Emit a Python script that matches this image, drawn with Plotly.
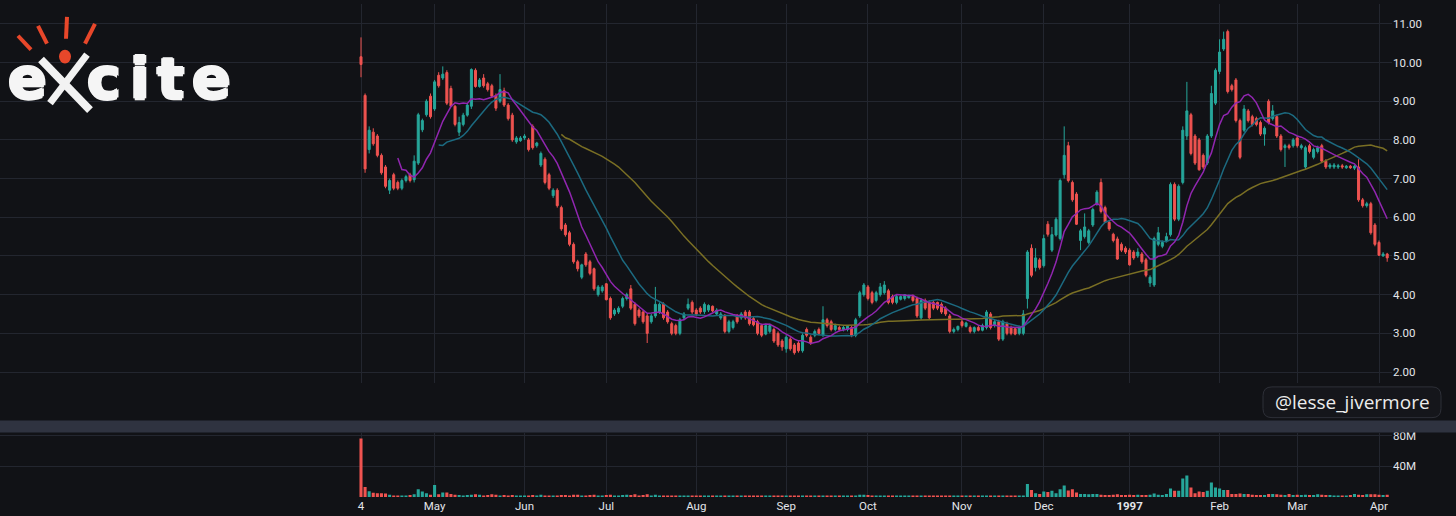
import pandas as pd
import plotly.graph_objects as go

# trading days Apr 4 1996 -> Apr 3 1997, NYSE holidays taken out
holidays = ['1996-04-05', '1996-05-27', '1996-07-04', '1996-09-02', '1996-11-28',
            '1996-12-25', '1997-01-01', '1997-02-17', '1997-03-28']
dates = [d for d in pd.bdate_range('1996-04-04', '1997-04-03')
         if d.strftime('%Y-%m-%d') not in holidays]

opens = [
    10.15, 9.15, 7.75, 8.2, 8.1, 7.6, 7.3, 6.7, 7.1, 6.9, 6.75, 6.95, 7.1, 6.97, 7.4, 8.26, 8.65, 9.13,
    8.8, 9.67, 9.6, 9.74, 9.33, 8.87, 8.2, 8.4, 8.64, 8.87, 9.8, 9.38, 9.6, 9.45, 9.4, 9.15, 9.0, 9.27, 8.9, 8.64, 7.95, 7.98,
    8.05, 8.0, 8.35, 7.85, 7.35, 7.5, 7.1, 6.56, 6.7, 6.25, 5.8, 5.6, 5.3, 4.85, 4.45, 5.05, 4.85, 4.67, 4.0, 4.1,
    4.28, 3.9, 3.5, 3.55, 3.7, 3.9, 4.15, 3.75, 3.6, 3.55, 3.45, 3.3, 3.45, 3.55, 3.75, 3.55, 3.25, 3.2, 3.0, 3.4, 3.65, 3.8,
    3.6, 3.65, 3.56, 3.6, 3.7, 3.5, 3.4, 3.44, 3.05, 3.15, 3.45, 3.4, 3.55, 3.55, 3.38, 3.3, 3.2, 2.98, 3.05, 3.1, 3.0, 2.8,
    2.6, 2.85, 2.7, 2.75, 2.55, 3.1, 2.9, 2.95, 3.1, 2.95, 3.35, 3.3, 3.1, 3.15, 3.1, 3.1, 3.15, 2.95, 3.45, 4.0,
    4.2, 4.05, 3.85, 4.0, 4.05, 4.1, 3.95, 3.8, 3.88, 3.9, 3.92, 3.95, 3.9, 3.4, 3.85, 3.8, 3.8, 3.8, 3.75, 3.65, 3.45, 3.05, 3.1,
    3.3, 3.18, 3.15, 3.05, 3.15, 3.08, 3.15, 3.5, 3.2, 3.3, 2.85, 3.25, 3.15, 3.12, 3.0, 3.0, 3.9, 5.2, 4.7, 4.9,
    4.75, 5.82, 5.15, 5.54, 5.45, 7.1, 7.85, 6.9, 6.6, 5.4, 5.5, 5.35, 5.8, 6.35, 6.9, 6.25, 5.87, 5.56, 5.44, 5.3, 5.2,
    5.15, 5.1, 5.0, 5.05, 4.9, 4.3, 4.25, 5.3, 5.25, 5.4, 5.55, 6.85, 5.95, 6.9, 8.1, 8.65, 8.1, 8.0, 7.6, 7.4, 8.1, 8.95,
    9.77, 10.35, 10.8, 9.4, 9.55, 8.5, 8.25, 8.75, 8.6, 8.55, 8.45, 8.15, 9.0, 8.55, 8.6, 8.1, 7.8, 7.85, 7.85,
    8.05, 7.8, 7.3, 7.85, 7.55, 7.7, 7.85, 7.45, 7.3, 7.3, 7.3, 7.33, 7.28, 7.32, 7.27, 7.3, 6.45, 6.3, 6.35, 5.8,
    5.35, 5.0, 5.05,
]
highs = [
    10.65, 9.2, 8.35, 8.3, 8.15, 7.65, 7.35, 7.0, 7.15, 6.95, 7.0, 7.1, 7.15, 7.6, 8.7, 8.55, 9.05, 9.2,
    9.55, 9.75, 9.9, 9.8, 9.4, 8.9, 8.6, 8.7, 8.95, 9.85, 9.85, 9.6, 9.7, 9.5, 9.45, 9.2, 9.7, 9.35, 8.95, 8.7, 8.1, 8.1,
    8.15, 8.05, 8.4, 7.95, 7.7, 7.55, 7.15, 6.75, 6.75, 6.3, 5.85, 5.65, 5.35, 4.9, 4.8, 5.1, 4.9, 4.7, 4.25, 4.25,
    4.3, 3.95, 3.65, 3.7, 3.95, 4.05, 4.25, 3.8, 3.65, 3.6, 3.5, 3.5, 4.2, 3.8, 3.8, 3.6, 3.3, 3.25, 3.4, 3.55, 3.9, 3.85,
    3.65, 3.7, 3.8, 3.75, 3.72, 3.65, 3.55, 3.5, 3.35, 3.35, 3.5, 3.55, 3.6, 3.6, 3.42, 3.35, 3.25, 3.25, 3.25, 3.15, 3.05, 2.85,
    2.95, 2.9, 2.75, 2.8, 3.0, 3.15, 2.95, 3.1, 3.15, 3.7, 3.4, 3.35, 3.25, 3.2, 3.2, 3.2, 3.2, 3.4, 4.1, 4.3,
    4.25, 4.1, 4.1, 4.3, 4.35, 4.15, 4.0, 4.0, 3.98, 4.0, 4.0, 4.0, 3.95, 3.9, 3.9, 3.85, 3.85, 3.82, 3.8, 3.7, 3.5, 3.15, 3.2,
    3.35, 3.3, 3.2, 3.18, 3.2, 3.25, 3.6, 3.55, 3.35, 3.35, 3.35, 3.3, 3.2, 3.15, 3.2, 3.6, 5.15, 5.3, 5.2, 4.95,
    5.55, 5.9, 5.75, 6.0, 7.0, 8.35, 7.95, 6.95, 6.65, 5.7, 6.1, 5.7, 6.25, 6.7, 7.0, 6.3, 5.9, 5.6, 5.5, 5.35, 5.25,
    5.2, 5.15, 5.2, 5.1, 4.95, 4.5, 5.5, 5.75, 5.4, 5.6, 6.9, 6.9, 6.85, 8.35, 9.5, 8.7, 8.15, 8.05, 7.65, 8.15, 9.4, 9.85,
    10.6, 10.8, 10.85, 9.45, 9.6, 8.55, 8.9, 8.8, 8.65, 8.6, 8.5, 8.35, 9.05, 8.9, 8.65, 8.15, 7.9, 7.9, 8.05,
    8.1, 7.9, 7.85, 7.9, 7.8, 7.85, 7.9, 7.5, 7.4, 7.4, 7.38, 7.38, 7.35, 7.35, 7.35, 7.5, 6.5, 6.4, 6.4, 5.85,
    5.4, 5.1, 5.08,
]
lows = [
    9.62, 7.15, 7.65, 7.85, 7.55, 7.1, 6.75, 6.6, 6.7, 6.7, 6.7, 6.9, 6.9, 6.9, 7.35, 8.2, 8.6, 8.55,
    8.75, 9.35, 9.55, 8.9, 8.85, 8.35, 8.1, 8.35, 8.6, 8.8, 9.35, 9.35, 9.35, 9.25, 9.1, 8.75, 8.95, 8.85, 8.5, 7.95, 7.9, 7.95,
    8.0, 7.7, 7.75, 7.8, 7.3, 6.85, 6.7, 6.5, 6.25, 5.65, 5.5, 5.25, 4.8, 4.6, 4.4, 4.72, 4.5, 4.1, 3.95, 4.05,
    3.85, 3.35, 3.45, 3.5, 3.65, 3.85, 3.6, 3.2, 3.4, 3.25, 2.75, 3.25, 3.4, 3.5, 3.35, 3.25, 2.95, 2.95, 2.95, 3.35, 3.6, 3.5,
    3.45, 3.5, 3.5, 3.55, 3.55, 3.45, 3.35, 3.0, 3.0, 3.1, 3.25, 3.35, 3.35, 3.2, 3.18, 2.95, 2.9, 2.95, 3.0, 2.75, 2.65, 2.55,
    2.5, 2.55, 2.45, 2.5, 2.5, 2.9, 2.7, 2.9, 2.95, 2.9, 3.15, 3.05, 3.05, 3.05, 3.05, 3.05, 2.9, 2.9, 3.4, 3.95,
    3.85, 3.75, 3.8, 3.95, 4.0, 3.75, 3.75, 3.75, 3.85, 3.85, 3.9, 3.8, 3.4, 3.35, 3.6, 3.35, 3.6, 3.6, 3.5, 3.45, 3.0, 3.0, 3.05,
    3.15, 3.15, 3.0, 3.0, 3.05, 3.05, 3.1, 3.1, 3.15, 2.8, 2.8, 2.95, 2.95, 2.95, 2.95, 2.95, 3.64, 4.45, 4.6, 4.65,
    4.7, 5.5, 5.1, 5.5, 5.4, 7.0, 6.9, 6.4, 5.8, 5.15, 5.45, 5.3, 5.75, 6.3, 6.1, 5.85, 5.65, 5.35, 4.9, 5.1, 5.05,
    4.75, 4.9, 4.95, 4.8, 4.45, 4.2, 4.2, 5.25, 5.2, 5.35, 5.5, 5.9, 5.9, 6.85, 8.0, 7.6, 7.35, 7.2, 7.25, 7.35, 8.05, 8.9,
    9.7, 10.3, 9.2, 9.25, 8.45, 7.5, 8.2, 8.45, 8.35, 8.35, 8.1, 7.85, 8.4, 8.5, 8.05, 7.7, 7.3, 7.75, 7.8,
    7.8, 7.75, 7.25, 7.65, 7.5, 7.65, 7.4, 7.25, 7.25, 7.25, 7.25, 7.25, 7.25, 7.25, 7.22, 6.4, 6.25, 6.25, 5.55, 5.25,
    5.0, 4.98, 4.85,
]
closes = [
    9.95, 7.25, 8.25, 7.9, 7.6, 7.15, 6.8, 6.95, 6.75, 6.75, 6.95, 7.05, 6.95, 7.45, 8.65, 8.5, 9.0, 8.6,
    9.5, 9.4, 9.7, 8.95, 8.87, 8.4, 8.45, 8.64, 8.9, 9.82, 9.38, 9.55, 9.4, 9.3, 9.13, 8.82, 9.3, 8.9, 8.55, 8.0, 8.05, 8.05,
    8.1, 7.75, 7.8, 7.92, 7.65, 6.9, 6.75, 6.7, 6.3, 5.7, 5.55, 5.3, 4.85, 4.67, 4.77, 4.77, 4.55, 4.15, 4.2, 4.2,
    3.87, 3.4, 3.6, 3.65, 3.9, 4.0, 3.65, 3.25, 3.45, 3.3, 3.0, 3.45, 3.75, 3.75, 3.4, 3.3, 3.0, 3.0, 3.35, 3.5, 3.75, 3.55,
    3.5, 3.55, 3.75, 3.72, 3.58, 3.6, 3.5, 3.05, 3.3, 3.3, 3.3, 3.5, 3.4, 3.25, 3.22, 3.0, 2.95, 3.2, 3.2, 2.8, 2.7, 2.65,
    2.9, 2.6, 2.5, 2.55, 2.95, 2.95, 2.75, 3.05, 3.0, 3.35, 3.2, 3.1, 3.2, 3.1, 3.15, 3.18, 2.95, 3.35, 4.05, 4.25,
    3.9, 3.8, 4.05, 4.2, 4.25, 3.8, 3.8, 3.95, 3.95, 4.0, 3.98, 3.85, 3.45, 3.85, 3.65, 3.4, 3.65, 3.65, 3.55, 3.5, 3.05, 3.1, 3.18,
    3.2, 3.27, 3.05, 3.15, 3.08, 3.2, 3.55, 3.15, 3.3, 2.85, 3.3, 3.0, 3.0, 2.98, 3.15, 3.5, 5.1, 4.5, 4.95, 4.7,
    5.45, 5.56, 5.55, 5.95, 6.95, 7.6, 6.95, 6.45, 5.82, 5.65, 5.75, 5.65, 6.2, 6.65, 6.15, 5.87, 5.7, 5.4, 4.92, 5.15, 5.1,
    4.77, 4.95, 5.1, 4.85, 4.5, 4.45, 5.45, 5.6, 5.35, 5.5, 6.85, 5.95, 6.8, 8.25, 8.75, 7.65, 7.4, 7.23, 7.3, 8.1, 9.2, 9.8,
    10.27, 10.6, 9.25, 9.3, 8.5, 7.55, 8.8, 8.5, 8.4, 8.4, 8.15, 8.3, 8.45, 8.75, 8.1, 7.75, 7.85, 7.8, 8.0,
    7.85, 7.85, 7.8, 7.7, 7.75, 7.8, 7.45, 7.3, 7.35, 7.35, 7.33, 7.3, 7.32, 7.28, 7.32, 6.45, 6.3, 6.35, 5.6, 5.3,
    5.02, 5.05, 4.95,
]
# volume in millions of shares
volumes = [
    76, 13, 7.5, 5.5, 5, 5, 4.5, 3, 2, 1.8, 2, 2, 2.5, 3.5, 10, 7, 5, 3,
    15.5, 3.5, 6, 6, 4, 3, 2.5, 2, 2.5, 3, 3.5, 3, 2, 2.5, 3.5, 3, 2, 2.5, 2, 2.5, 2, 2,
    2, 2, 2.5, 2, 3, 2, 2, 1.5, 2, 2.5, 2.5, 2, 3, 3, 2, 2, 2.5, 3, 2, 2,
    2.5, 3, 2, 2, 2.5, 3, 2.5, 3.5, 2, 2.5, 3.5, 2, 3, 2, 2, 2, 2, 1.5, 2, 1.5, 2, 1.5,
    1, 1, 1, 0.8, 0.8, 0.8, 0.8, 1, 0.8, 0.8, 0.8, 0.8, 0.8, 1, 0.8, 1, 1, 0.8, 0.8, 1, 1, 1,
    1, 1, 1, 1, 1.2, 1, 1, 1, 1, 2, 1, 1, 1, 1, 1, 1, 1.2, 1.5, 3, 3,
    2.5, 2, 2, 2, 2, 1.5, 1.5, 1.5, 1.5, 1.5, 1.2, 1.2, 2, 2, 1.5, 2, 1.5, 1.5, 1.5, 1.2, 2, 1, 1,
    1.2, 1, 1, 1, 1, 1.5, 2, 2, 1.2, 2, 1.5, 1.2, 1, 1, 1, 2, 17, 9, 5, 4,
    7, 6.5, 8, 5, 10, 15, 8.5, 10, 6, 4, 4, 3.5, 4, 4, 3, 2.5, 2.5, 3, 3.5, 2.5, 2.5,
    3, 2.5, 3, 2.5, 2.5, 3, 4.5, 3, 2.5, 4, 11, 8, 8, 24, 28, 12.5, 5, 7, 6.5, 8, 19, 12.5,
    11, 9, 9, 4, 4, 4.5, 4, 4, 3, 2.5, 2.5, 2.5, 4, 4, 3.5, 3, 2.5, 4, 2.5,
    3, 2.5, 3, 2.5, 2.5, 3.5, 3, 2.5, 2.5, 2, 2, 2, 2, 2.5, 4, 3, 2.5, 3.5, 3.5, 3.5,
    3, 2.5, 3,
]

price_ticks = [2, 3, 4, 5, 6, 7, 8, 9, 10, 11]

bg = '#111216'
grid = '#23262f'
up = '#26a69a'
down = '#ef5350'

n = len(closes)
xs = list(range(n))
labels = [d.strftime('%Y-%m-%d') for d in dates[:n]]

# month ticks: first bar of every month
tick_pos, tick_text = [], []
for i, d in enumerate(dates[:n]):
    if i == 0:
        tick_pos.append(i)
        tick_text.append(str(d.day))
    elif d.month != dates[i - 1].month:
        tick_pos.append(i)
        tick_text.append('<b>%d</b>' % d.year if d.month == 1 else d.strftime('%b'))

s = pd.Series(closes)
ma10 = s.rolling(10).mean()
ma20 = s.rolling(20).mean()
ma50 = s.rolling(50).mean()

vol_colors = [up if c >= o else down for o, c in zip(opens, closes)]

# plot area is 1392 x 497 px, helpers to place decorations in px
W, H = 1392.0, 497.0
def px(v):
    return v / W
def py(v):
    return 1 - v / H

fig = go.Figure()
fig.add_trace(go.Scatter(x=xs, y=ma50, mode='lines', line=dict(color='#7a6f24', width=1.5),
                         hoverinfo='skip'))
fig.add_trace(go.Scatter(x=xs, y=ma20, mode='lines', line=dict(color='#1c6a80', width=1.5),
                         hoverinfo='skip'))
fig.add_trace(go.Scatter(x=xs, y=ma10, mode='lines', line=dict(color='#9126b0', width=1.5),
                         hoverinfo='skip'))
fig.add_trace(go.Candlestick(
    x=xs, open=opens, high=highs, low=lows, close=closes, text=labels,
    increasing=dict(line=dict(color=up, width=1), fillcolor=up),
    decreasing=dict(line=dict(color=down, width=1), fillcolor=down),
    whiskerwidth=0))
fig.add_trace(go.Bar(x=xs, y=[v * 1e6 for v in volumes], marker=dict(color=vol_colors, line_width=0),
                     xaxis='x2', yaxis='y2', hoverinfo='skip'))

xr = [-361 / 4.0884, (W - 361) / 4.0884]

fig.update_layout(
    width=1456, height=516,
    margin=dict(l=0, r=64, t=0, b=19),
    paper_bgcolor=bg, plot_bgcolor=bg,
    showlegend=False, bargap=0.25,
    font=dict(family='Roboto', size=11.5, color='#e3e5ea'),
    xaxis=dict(domain=[0, 1], range=xr, anchor='y', tickvals=tick_pos, showticklabels=False,
               showgrid=True, gridcolor=grid, zeroline=False, rangeslider=dict(visible=False)),
    yaxis=dict(domain=[py(382), 1], range=[11 - 362 / 39.0, 11 + 20 / 39.0], side='right',
               tickvals=price_ticks, ticktext=['%.2f' % t for t in price_ticks],
               showgrid=True, gridcolor=grid, zeroline=False, anchor='x'),
    xaxis2=dict(domain=[0, 1], range=xr, anchor='y2', tickvals=tick_pos, ticktext=tick_text,
                showgrid=True, gridcolor=grid, zeroline=False),
    yaxis2=dict(domain=[0, py(432)], range=[0, 80e6 * 65 / 62.0], side='right',
                tickvals=[40e6, 80e6], ticktext=['40M', '80M'],
                showgrid=True, gridcolor=grid, zeroline=False, anchor='x2'),
)

# pane separator
fig.add_shape(type='rect', xref='paper', yref='paper', x0=0, x1=px(1456), y0=py(432), y1=py(420),
              fillcolor='#2f3340', line_width=0)

# watermark box with rounded corners
x0, x1, y0, y1, r = 1263, 1441, 386, 417, 9
pts = 'M %f,%f L %f,%f Q %f,%f %f,%f L %f,%f Q %f,%f %f,%f L %f,%f Q %f,%f %f,%f L %f,%f Q %f,%f %f,%f Z' % (
    px(x0 + r), py(y0), px(x1 - r), py(y0), px(x1), py(y0), px(x1), py(y0 + r),
    px(x1), py(y1 - r), px(x1), py(y1), px(x1 - r), py(y1),
    px(x0 + r), py(y1), px(x0), py(y1), px(x0), py(y1 - r),
    px(x0), py(y0 + r), px(x0), py(y0), px(x0 + r), py(y0))
fig.add_shape(type='path', xref='paper', yref='paper', path=pts,
              fillcolor='#15161b', line=dict(color='#2e3038', width=1))
fig.add_annotation(xref='paper', yref='paper', x=px(1352), y=py(401), text='@lesse_jivermore',
                   showarrow=False, xanchor='center', yanchor='middle',
                   font=dict(family='Open Sans', size=19, color='#ececec'))

# excite logo
for x_a, y_a, x_b, y_b in [(18, 32, 31, 46), (38, 22, 47, 40), (67, 13, 66, 35), (95, 20, 85, 40)]:
    fig.add_shape(type='line', xref='paper', yref='paper', x0=px(x_a), y0=py(y_a), x1=px(x_b), y1=py(y_b),
                  line=dict(color='#e8472a', width=4))
fig.add_shape(type='line', xref='paper', yref='paper', x0=px(41), y0=py(56), x1=px(90), y1=py(107),
              line=dict(color='#f2f2f2', width=8))
fig.add_shape(type='line', xref='paper', yref='paper', x0=px(87), y0=py(51), x1=px(50), y1=py(100),
              line=dict(color='#f2f2f2', width=7))
fig.add_shape(type='circle', xref='paper', yref='paper', x0=px(59), x1=px(71), y0=py(46), y1=py(60),
              fillcolor='#e8472a', line_width=0)
thick = '1.5px 0 0 #f5f5f5, -1.5px 0 0 #f5f5f5, 0 1.5px 0 #f5f5f5, 0 -1px 0 #f5f5f5'
for ch, cx in [('e', 27), ('c', 104), ('i', 140), ('t', 170), ('e', 211)]:
    fig.add_annotation(xref='paper', yref='paper', x=px(cx), y=py(75), text='<b>%s</b>' % ch,
                       showarrow=False, xanchor='center', yanchor='middle',
                       font=dict(family='DejaVu Sans', size=57, color='#f5f5f5', shadow=thick))

# drop the page's default body margin so the chart sits at the window corner
fig.write_html("out.html", config={'displayModeBar': False},
               post_script="document.body.style.margin='0';document.body.style.background='%s';" % bg)
